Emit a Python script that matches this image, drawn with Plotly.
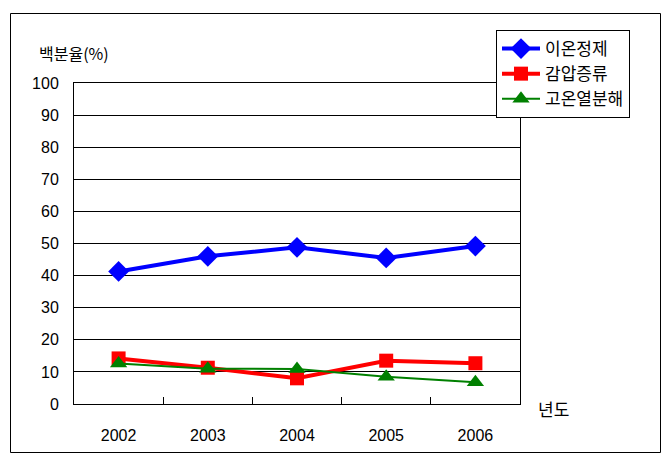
import plotly.graph_objects as go

years = ["2002", "2003", "2004", "2005", "2006"]
ion_exchange = [41.3, 46.0, 48.8, 45.5, 49.2]
vacuum_distill = [14.2, 11.3, 8.0, 13.5, 12.7]
pyrolysis = [12.6, 11.0, 10.9, 8.5, 6.8]
y_ticks = [0, 10, 20, 30, 40, 50, 60, 70, 80, 90, 100]

W, H = 670, 464
L, R, T, B = 74, 520, 83, 404
pw, ph = R - L, B - T

def px(x):
    return (x - L) / pw

def py(y):
    return (B - y) / ph

num_font = "Liberation Sans Narrow, Arial Narrow, Liberation Sans, sans-serif"
kr_font = "Noto Sans CJK KR, Noto Sans, sans-serif"

fig = go.Figure()
fig.add_trace(go.Scatter(x=years, y=ion_exchange, name="이온정제", mode="lines+markers",
                         line=dict(color="#0000FF", width=4),
                         marker=dict(symbol="diamond", size=16, color="#0000FF")))
fig.add_trace(go.Scatter(x=years, y=vacuum_distill, name="감압증류", mode="lines+markers",
                         line=dict(color="#FF0000", width=4),
                         marker=dict(symbol="square", size=14, color="#FF0000")))
fig.add_trace(go.Scatter(x=years, y=pyrolysis, name="고온열분해", mode="lines+markers",
                         line=dict(color="#008000", width=2),
                         marker=dict(symbol="triangle-up", size=15, color="#008000")))

fig.update_layout(
    width=W, height=H,
    margin=dict(l=L, r=W - R, t=T, b=H - B, pad=0),
    paper_bgcolor="white", plot_bgcolor="white",
    showlegend=True,
    legend=dict(x=px(496), y=py(30), xanchor="left", yanchor="top",
                bgcolor="white", bordercolor="black", borderwidth=1,
                font=dict(family=kr_font, size=17, color="black"),
                itemwidth=38, tracegroupgap=0),
    xaxis=dict(type="category", range=[-0.5, 4.5], showgrid=False,
               showline=True, linecolor="black", linewidth=1, mirror=True,
               ticks="inside", tickson="boundaries", ticklen=7, tickcolor="black",
               ticklabelstandoff=17,
               tickfont=dict(family=num_font, size=16, color="black")),
    yaxis=dict(range=[0, 100], tickvals=y_ticks, showgrid=True, gridcolor="black",
               gridwidth=1, zeroline=False,
               showline=True, linecolor="black", linewidth=1, mirror=True,
               ticks="", ticklabelstandoff=11,
               tickfont=dict(family=num_font, size=16, color="black")),
    shapes=[dict(type="rect", xref="paper", yref="paper",
                 x0=px(10.5), x1=px(660.5), y0=py(452.5), y1=py(13.5),
                 line=dict(color="black", width=1), fillcolor="rgba(0,0,0,0)", layer="below")],
    annotations=[
        dict(text="백분율(%)", xref="paper", yref="paper", x=px(37), y=py(53),
             xanchor="left", yanchor="middle", showarrow=False,
             font=dict(family=kr_font, size=16, color="black")),
        dict(text="년도", xref="paper", yref="paper", x=px(536), y=py(409),
             xanchor="left", yanchor="middle", showarrow=False,
             font=dict(family=kr_font, size=17, color="black")),
    ],
)

fig.write_html("out.html")
